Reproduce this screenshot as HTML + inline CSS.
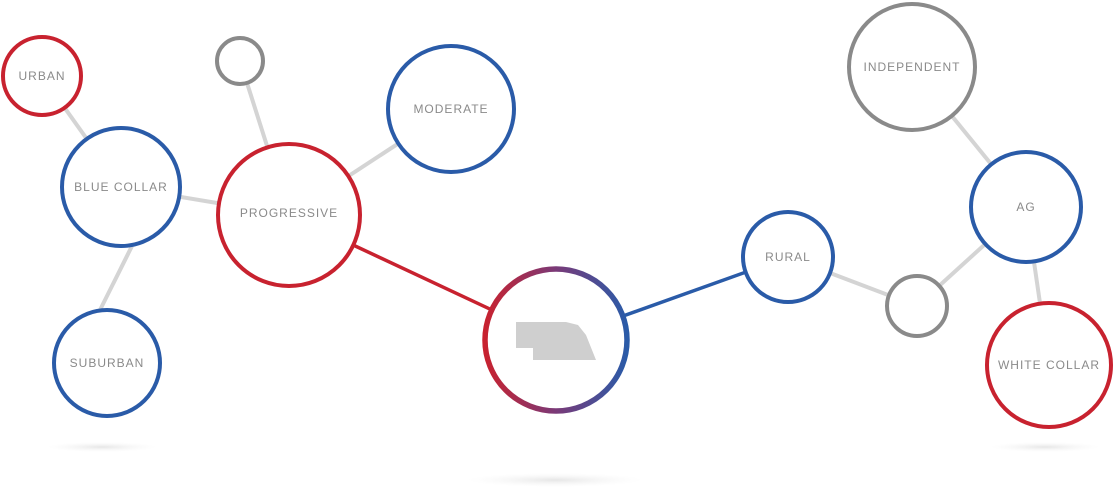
<!DOCTYPE html>
<html><head><meta charset="utf-8"><style>
html,body{margin:0;padding:0;background:#fff;width:1114px;height:487px;overflow:hidden}
svg text{font-family:"Liberation Sans",sans-serif;font-size:12px;fill:#8a8a8a;letter-spacing:1px;text-anchor:middle;dominant-baseline:central}
</style></head><body>
<svg width="1114" height="487" viewBox="0 0 1114 487" xmlns="http://www.w3.org/2000/svg">
<defs>
<linearGradient id="g" x1="0" y1="0" x2="1" y2="0">
<stop offset="0" stop-color="#c8222f"/><stop offset="0.5" stop-color="#7a3a78"/><stop offset="1" stop-color="#2a5ba8"/>
</linearGradient>
<radialGradient id="sh"><stop offset="0" stop-color="#e6e6e6"/><stop offset="1" stop-color="#f6f6f6" stop-opacity="0"/></radialGradient>
</defs>
<ellipse cx="102" cy="447" rx="55" ry="5" fill="url(#sh)"/>
<ellipse cx="1045" cy="447" rx="55" ry="5" fill="url(#sh)"/>
<ellipse cx="555" cy="480" rx="88" ry="7" fill="url(#sh)"/>
<g stroke="#d4d4d4" stroke-width="4">
<line x1="42" y1="76" x2="121" y2="187"/>
<line x1="132" y1="246" x2="100" y2="310"/>
<line x1="121" y1="187" x2="289" y2="215"/>
<line x1="240" y1="61" x2="289" y2="215"/>
<line x1="451" y1="109" x2="289" y2="215"/>
<line x1="912" y1="67" x2="1026" y2="207"/>
<line x1="1026" y1="207" x2="917" y2="306"/>
<line x1="1026" y1="207" x2="1049" y2="365"/>
<line x1="788" y1="257" x2="917" y2="306"/>
</g>
<line x1="289" y1="215" x2="556" y2="340" stroke="#c8222f" stroke-width="3.5"/>
<line x1="556" y1="340" x2="788" y2="257" stroke="#2a5ba8" stroke-width="3.5"/>
<g fill="#fff" stroke-width="4">
<circle cx="42" cy="76" r="39" stroke="#c8222f"/>
<circle cx="121" cy="187" r="59" stroke="#2a5ba8"/>
<circle cx="107" cy="363" r="53" stroke="#2a5ba8"/>
<circle cx="240" cy="61" r="23" stroke="#8a8a8a"/>
<circle cx="289" cy="215" r="71" stroke="#c8222f"/>
<circle cx="451" cy="109" r="63" stroke="#2a5ba8"/>
<circle cx="912" cy="67" r="63" stroke="#8a8a8a"/>
<circle cx="1026" cy="207" r="55" stroke="#2a5ba8"/>
<circle cx="788" cy="257" r="45" stroke="#2a5ba8"/>
<circle cx="917" cy="306" r="30" stroke="#8a8a8a"/>
<circle cx="1049" cy="365" r="62" stroke="#c8222f"/>
<circle cx="556" cy="340" r="71" stroke="url(#g)" stroke-width="5.5"/>
</g>
<path d="M516 322 L566 322 L578 325 L586 335 L596 360 L533 360 L533 348 L516 348 Z" fill="#cfcfcf"/>
<text x="42" y="76">URBAN</text>
<text x="121" y="187">BLUE COLLAR</text>
<text x="107" y="363">SUBURBAN</text>
<text x="289" y="213">PROGRESSIVE</text>
<text x="451" y="109">MODERATE</text>
<text x="912" y="67">INDEPENDENT</text>
<text x="1026" y="207">AG</text>
<text x="788" y="257">RURAL</text>
<text x="1049" y="365">WHITE COLLAR</text>
</svg>
</body></html>
